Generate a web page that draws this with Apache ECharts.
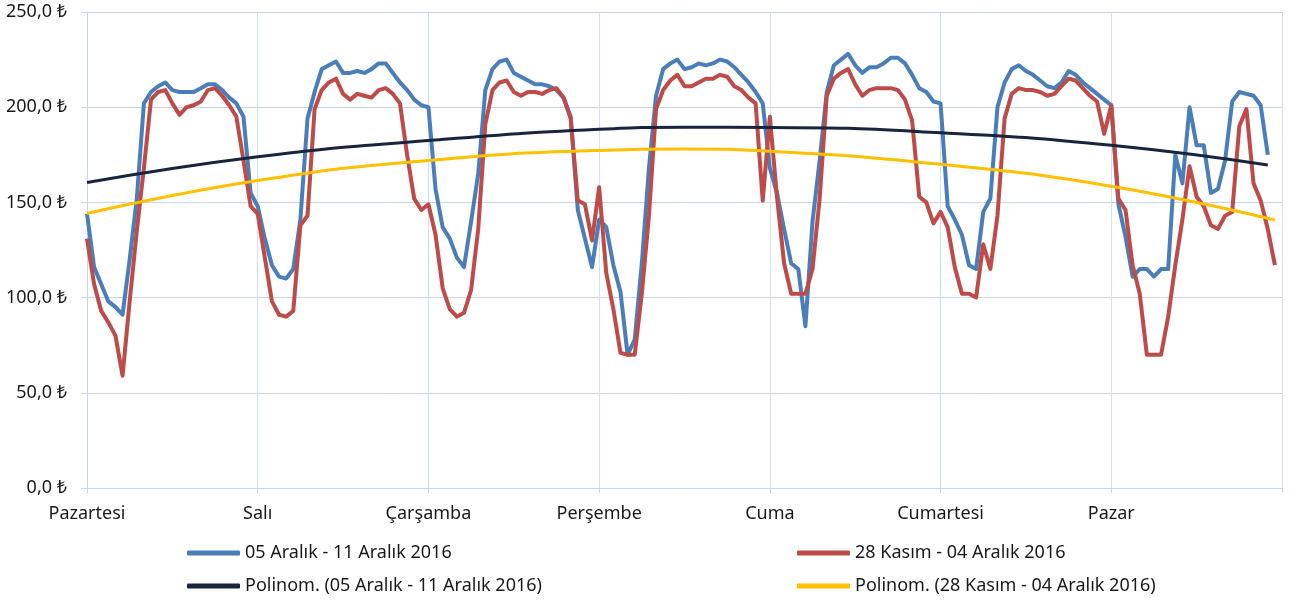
<!DOCTYPE html>
<html>
<head>
<meta charset="utf-8">
<script src="https://cdn.jsdelivr.net/npm/echarts@6/dist/echarts.min.js"></script>
<style>
  html, body { margin: 0; padding: 0; background: #fff; }
  #chart { width: 1293px; height: 604px; }
</style>
</head>
<body>
<div id="chart"></div>
<script>
// günler (her gün 24 saat)
var days = ["Pazartesi", "Salı", "Çarşamba", "Perşembe", "Cuma", "Cumartesi", "Pazar"];
var hoursPerDay = 24;

var nameBlue = "05 Aralık - 11 Aralık 2016";
var nameRed = "28 Kasım - 04 Aralık 2016";
var nameBlueTrend = "Polinom. (05 Aralık - 11 Aralık 2016)";
var nameRedTrend = "Polinom. (28 Kasım - 04 Aralık 2016)";

// saatlik değerler
var blueValues = [
  144, 116, 107, 98, 95, 91, 120, 152, 202, 208,
  211, 213, 209, 208, 208, 208, 210, 212, 212, 209,
  205, 202, 195, 155, 148, 131, 117, 111, 110, 115,
  141, 194, 208, 220, 222, 224, 218, 218, 219, 218,
  220, 223, 223, 218, 213, 209, 204, 201, 200, 157,
  137, 131, 121, 116, 140, 165, 209, 220, 224, 225,
  218, 216, 214, 212, 212, 211, 209, 205, 195, 146,
  131, 116, 141, 137, 117, 103, 70, 78, 118, 168,
  206, 220, 223, 225, 220, 221, 223, 222, 223, 225,
  224, 221, 217, 213, 208, 202, 168, 155, 136, 118,
  115, 85, 140, 172, 208, 222, 225, 228, 222, 218,
  221, 221, 223, 226, 226, 223, 217, 210, 208, 203,
  202, 148, 141, 133, 117, 115, 145, 152, 200, 213,
  220, 222, 219, 217, 214, 211, 210, 213, 219, 217,
  213, 210, 207, 204, 201, 149, 132, 111, 115, 115,
  111, 115, 115, 175, 160, 200, 180, 180, 155, 157,
  172, 203, 208, 207, 206, 201, 175, null
];

var redValues = [
  131, 107, 93, 87, 80, 59, 98, 135, 168, 204,
  208, 209, 202, 196, 200, 201, 203, 209, 210, 206,
  201, 195, 172, 148, 144, 121, 98, 91, 90, 93,
  138, 143, 199, 209, 213, 215, 207, 204, 207, 206,
  205, 209, 210, 207, 202, 175, 152, 146, 149, 133,
  105, 94, 90, 92, 104, 136, 191, 209, 213, 214,
  208, 206, 208, 208, 207, 209, 210, 205, 194, 151,
  149, 130, 158, 113, 94, 71, 70, 70, 102, 143,
  199, 209, 214, 217, 211, 211, 213, 215, 215, 217,
  216, 211, 209, 205, 202, 151, 195, 153, 118, 102,
  102, 102, 115, 152, 206, 215, 218, 220, 212, 206,
  209, 210, 210, 210, 209, 204, 193, 153, 150, 139,
  145, 137, 116, 102, 102, 100, 128, 115, 143, 194,
  207, 210, 209, 209, 208, 206, 207, 211, 215, 214,
  210, 206, 203, 186, 201, 152, 146, 117, 102, 70,
  70, 70, 90, 117, 141, 169, 153, 148, 138, 136,
  143, 145, 190, 199, 160, 151, 136, 117
];

// trend çizgileri (resimden okunan noktalar)
var blueTrendIdx = [0, 24, 48, 72, 84, 96, 120, 144, 166];
var blueTrendValues = [160.4, 174, 182.5, 188.4, 189.5, 189.4, 186.6, 180, 169.6];
var redTrendIdx = [0, 24, 48, 72, 84, 96, 120, 144, 167];
var redTrendValues = [144.2, 161.5, 172, 177.3, 178, 176.8, 170, 158.5, 140.7];

var yTicks = [0, 50, 100, 150, 200, 250];

var categories = [];
for (var d = 0; d < days.length; d++) {
  for (var h = 0; h < hoursPerDay; h++) {
    categories.push(h === 0 ? days[d] : "");
  }
}
categories.push("");

function pairs(idx, vals) {
  return idx.map(function (x, k) { return [x, vals[k]]; });
}
function dayStart(i) { return i % hoursPerDay === 0; }

var font = "Noto Sans";
var textColor = "#1a1a1a";

function legendAt(name, left, top) {
  return {
    data: [name],
    left: left,
    top: top,
    orient: "horizontal",
    icon: "roundRect",
    itemWidth: 53,
    itemHeight: 5,
    padding: 0,
    textStyle: { fontFamily: font, fontSize: 18, color: textColor },
    selectedMode: false
  };
}

var myChart = echarts.init(document.getElementById("chart"));
myChart.setOption({
  animation: false,
  backgroundColor: "#ffffff",
  grid: { left: 87, right: 11, top: 12, bottom: 116, containLabel: false },
  legend: [
    legendAt(nameBlue, 187, 544),
    legendAt(nameRed, 797, 544),
    legendAt(nameBlueTrend, 187, 577),
    legendAt(nameRedTrend, 797, 577)
  ],
  xAxis: {
    type: "category",
    data: categories,
    boundaryGap: false,
    axisLine: { lineStyle: { color: "#C9D7EA", width: 1 } },
    axisTick: { show: true, interval: function (i) { return dayStart(i); }, length: 5, lineStyle: { color: "#C9D7EA" } },
    axisLabel: {
      interval: function (i) { return dayStart(i); },
      margin: 17,
      fontFamily: font,
      fontSize: 18,
      color: textColor
    },
    splitLine: { show: true, interval: function (i) { return dayStart(i); }, lineStyle: { color: "#D6E1EF", width: 1 } }
  },
  yAxis: {
    type: "value",
    min: yTicks[0],
    max: yTicks[yTicks.length - 1],
    interval: 50,
    axisLine: { show: true, lineStyle: { color: "#C9D7EA" } },
    axisTick: { show: true, length: 6, lineStyle: { color: "#C9D7EA" } },
    axisLabel: {
      margin: 20,
      fontFamily: font,
      fontSize: 18,
      color: textColor,
      formatter: function (v) { return v.toFixed(1).replace(".", ",") + " ₺"; }
    },
    splitLine: { show: true, lineStyle: { color: "#C9D7EA", width: 1 } }
  },
  series: [
    {
      name: nameBlue,
      type: "line",
      data: blueValues,
      showSymbol: false,
      color: "#4A7EBB",
      lineStyle: { width: 4, color: "#4A7EBB", join: "round" },
      z: 2
    },
    {
      name: nameRed,
      type: "line",
      data: redValues,
      showSymbol: false,
      color: "#BE4B48",
      lineStyle: { width: 4, color: "#BE4B48", join: "round" },
      z: 3
    },
    {
      name: nameBlueTrend,
      type: "line",
      data: pairs(blueTrendIdx, blueTrendValues),
      smooth: true,
      showSymbol: false,
      color: "#17263E",
      lineStyle: { width: 3, color: "#17263E" },
      z: 4
    },
    {
      name: nameRedTrend,
      type: "line",
      data: pairs(redTrendIdx, redTrendValues),
      smooth: true,
      showSymbol: false,
      color: "#FFC000",
      lineStyle: { width: 3, color: "#FFC000" },
      z: 4
    }
  ]
});
</script>
</body>
</html>
